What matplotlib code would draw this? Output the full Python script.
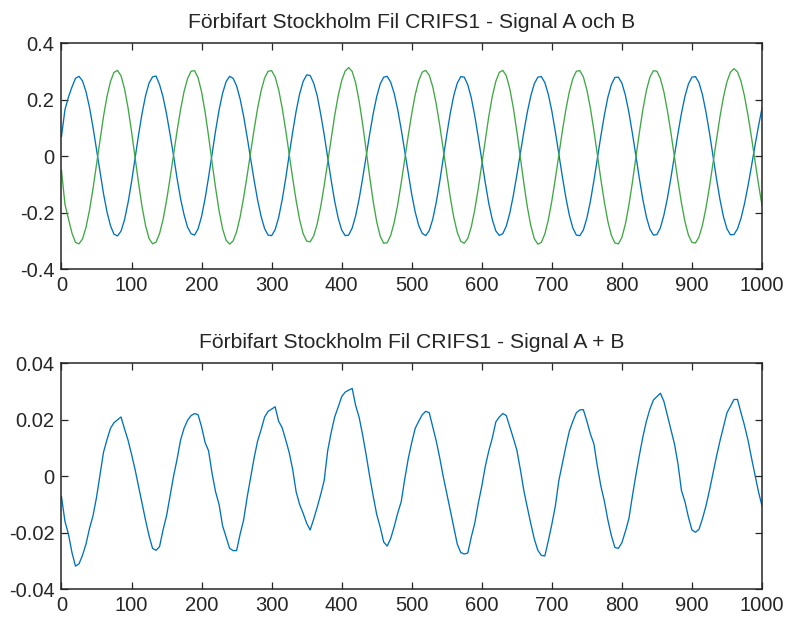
import numpy as np
import matplotlib
matplotlib.use("Agg")
import matplotlib.pyplot as plt

plt.rcParams['font.family'] = ['Liberation Sans', 'DejaVu Sans']

# sample index, every 5th sample of the 1000-sample record
samples = np.arange(0, 1001, 5)

signal_a = [
    0.070, 0.165, 0.210, 0.245, 0.276, 0.283, 0.267, 0.229, 0.173, 0.103,
    0.024, -0.056, -0.132, -0.197, -0.246, -0.276, -0.282, -0.265, -0.225, -0.165,
    -0.091, -0.008, 0.075, 0.151, 0.214, 0.259, 0.281, 0.284, 0.254, 0.210,
    0.150, 0.078, 0.003, -0.078, -0.150, -0.207, -0.251, -0.274, -0.279, -0.257,
    -0.213, -0.150, -0.074, 0.008, 0.090, 0.164, 0.223, 0.264, 0.283, 0.276,
    0.249, 0.203, 0.142, 0.069, -0.008, -0.085, -0.155, -0.213, -0.256, -0.279,
    -0.281, -0.260, -0.217, -0.155, -0.080, 0.004, 0.085, 0.160, 0.221, 0.265,
    0.288, 0.286, 0.259, 0.215, 0.150, 0.077, -0.004, -0.085, -0.159, -0.219,
    -0.261, -0.281, -0.279, -0.254, -0.210, -0.150, -0.077, 0.002, 0.079, 0.151,
    0.211, 0.256, 0.280, 0.283, 0.262, 0.222, 0.165, 0.095, 0.018, -0.061,
    -0.135, -0.198, -0.245, -0.273, -0.281, -0.263, -0.223, -0.163, -0.089, -0.007,
    0.076, 0.152, 0.215, 0.259, 0.282, 0.280, 0.253, 0.207, 0.143, 0.067,
    -0.014, -0.094, -0.167, -0.224, -0.264, -0.280, -0.274, -0.247, -0.201, -0.139,
    -0.067, 0.010, 0.086, 0.156, 0.214, 0.257, 0.280, 0.282, 0.261, 0.219,
    0.160, 0.087, 0.008, -0.072, -0.146, -0.209, -0.254, -0.279, -0.281, -0.261,
    -0.219, -0.160, -0.087, -0.008, 0.072, 0.146, 0.209, 0.254, 0.279, 0.280,
    0.259, 0.216, 0.155, 0.081, 0.002, -0.080, -0.154, -0.215, -0.258, -0.279,
    -0.277, -0.253, -0.208, -0.148, -0.076, 0.002, 0.080, 0.152, 0.212, 0.256,
    0.280, 0.282, 0.261, 0.218, 0.157, 0.083, 0.002, -0.079, -0.153, -0.214,
    -0.257, -0.278, -0.277, -0.257, -0.220, -0.168, -0.105, -0.035, 0.038, 0.107,
    0.170,
]

signal_b = [
    -0.050, -0.170, -0.222, -0.272, -0.305, -0.310, -0.293, -0.252, -0.191, -0.115,
    -0.029, 0.058, 0.141, 0.212, 0.265, 0.297, 0.304, 0.285, 0.239, 0.172,
    0.088, -0.003, -0.094, -0.178, -0.245, -0.291, -0.310, -0.304, -0.274, -0.224,
    -0.157, -0.078, 0.006, 0.089, 0.165, 0.229, 0.275, 0.301, 0.303, 0.278,
    0.228, 0.157, 0.071, -0.022, -0.112, -0.193, -0.257, -0.297, -0.311, -0.300,
    -0.267, -0.215, -0.147, -0.069, 0.014, 0.095, 0.170, 0.232, 0.277, 0.301,
    0.303, 0.281, 0.236, 0.172, 0.094, 0.009, -0.077, -0.157, -0.225, -0.274,
    -0.300, -0.303, -0.282, -0.240, -0.179, -0.104, -0.021, 0.064, 0.144, 0.214,
    0.268, 0.302, 0.314, 0.300, 0.259, 0.194, 0.113, 0.021, -0.073, -0.160,
    -0.232, -0.283, -0.308, -0.306, -0.280, -0.234, -0.171, -0.094, -0.011, 0.073,
    0.151, 0.218, 0.268, 0.298, 0.304, 0.287, 0.246, 0.185, 0.109, 0.024,
    -0.063, -0.145, -0.216, -0.269, -0.301, -0.308, -0.291, -0.250, -0.189, -0.113,
    -0.028, 0.059, 0.141, 0.212, 0.265, 0.297, 0.304, 0.285, 0.239, 0.172,
    0.088, -0.004, -0.095, -0.179, -0.246, -0.292, -0.311, -0.305, -0.275, -0.225,
    -0.158, -0.079, 0.005, 0.089, 0.165, 0.229, 0.275, 0.301, 0.303, 0.281,
    0.235, 0.171, 0.092, 0.005, -0.082, -0.163, -0.231, -0.280, -0.307, -0.310,
    -0.287, -0.240, -0.173, -0.092, -0.004, 0.085, 0.166, 0.233, 0.280, 0.303,
    0.301, 0.275, 0.227, 0.161, 0.083, -0.002, -0.087, -0.165, -0.231, -0.279,
    -0.305, -0.307, -0.286, -0.244, -0.183, -0.108, -0.025, 0.060, 0.140, 0.210,
    0.264, 0.298, 0.310, 0.299, 0.266, 0.213, 0.145, 0.067, -0.017, -0.099,
    -0.174,
]

signal_sum = [
    -0.0072, -0.0160, -0.0205, -0.0270, -0.0318, -0.0310, -0.0280, -0.0240, -0.0185, -0.0140,
    -0.0075, 0.0005, 0.0085, 0.0130, 0.0170, 0.0190, 0.0200, 0.0210, 0.0168, 0.0128,
    0.0078, 0.0025, -0.0035, -0.0095, -0.0155, -0.0210, -0.0255, -0.0262, -0.0249, -0.0190,
    -0.0140, -0.0070, 0.0000, 0.0060, 0.0128, 0.0170, 0.0198, 0.0215, 0.0222, 0.0218,
    0.0175, 0.0120, 0.0090, 0.0010, -0.0055, -0.0100, -0.0175, -0.0215, -0.0255, -0.0263,
    -0.0263, -0.0205, -0.0155, -0.0075, -0.0005, 0.0065, 0.0125, 0.0165, 0.0210, 0.0230,
    0.0238, 0.0246, 0.0195, 0.0172, 0.0130, 0.0085, 0.0025, -0.0055, -0.0100, -0.0131,
    -0.0166, -0.0190, -0.0152, -0.0110, -0.0065, -0.0015, 0.0090, 0.0155, 0.0210, 0.0245,
    0.0282, 0.0298, 0.0305, 0.0311, 0.0250, 0.0208, 0.0145, 0.0075, -0.0001, -0.0070,
    -0.0135, -0.0180, -0.0233, -0.0247, -0.0220, -0.0178, -0.0130, -0.0090, -0.0010, 0.0062,
    0.0120, 0.0170, 0.0195, 0.0218, 0.0230, 0.0225, 0.0175, 0.0125, 0.0065, -0.0001,
    -0.0060, -0.0120, -0.0180, -0.0240, -0.0270, -0.0275, -0.0272, -0.0215, -0.0166, -0.0096,
    -0.0035, 0.0035, 0.0090, 0.0135, 0.0192, 0.0210, 0.0222, 0.0215, 0.0175, 0.0135,
    0.0093, 0.0025, -0.0050, -0.0110, -0.0168, -0.0222, -0.0262, -0.0280, -0.0282, -0.0228,
    -0.0170, -0.0105, -0.0015, 0.0045, 0.0105, 0.0160, 0.0195, 0.0225, 0.0235, 0.0236,
    0.0195, 0.0150, 0.0115, 0.0035, -0.0035, -0.0088, -0.0155, -0.0210, -0.0252, -0.0255,
    -0.0235, -0.0195, -0.0150, -0.0070, 0.0005, 0.0075, 0.0140, 0.0195, 0.0238, 0.0270,
    0.0282, 0.0294, 0.0265, 0.0215, 0.0165, 0.0115, 0.0045, -0.0050, -0.0090, -0.0145,
    -0.0190, -0.0198, -0.0188, -0.0150, -0.0105, -0.0050, 0.0010, 0.0070, 0.0125, 0.0175,
    0.0225, 0.0248, 0.0272, 0.0272, 0.0225, 0.0180, 0.0128, 0.0065, 0.0005, -0.0055,
    -0.0105,
]

x_ticks = list(range(0, 1001, 100))
top_yticks = [-0.4, -0.2, 0, 0.2, 0.4]
top_ylabels = ['-0.4', '-0.2', '0', '0.2', '0.4']
bottom_yticks = [-0.04, -0.02, 0, 0.02, 0.04]
bottom_ylabels = ['-0.04', '-0.02', '0', '0.02', '0.04']

title_top = 'Förbifart Stockholm Fil CRIFS1 - Signal A och B'
title_bottom = 'Förbifart Stockholm Fil CRIFS1 - Signal A + B'

blue = '#0072BD'
green = '#3fa843'
axis_color = '#262626'
text_color = '#262626'


def style_axes(ax, yticks, ylabels, ylim):
    ax.set_xlim(0, 1000)
    ax.set_ylim(*ylim)
    ax.set_xticks(x_ticks)
    ax.set_xticklabels([str(v) for v in x_ticks])
    ax.set_yticks(yticks)
    ax.set_yticklabels(ylabels)
    ax.tick_params(direction='in', length=5, width=0.9, color=axis_color,
                   labelsize=14.5, labelcolor=text_color, top=True, right=True, pad=5)
    for spine in ax.spines.values():
        spine.set_color(axis_color)
        spine.set_linewidth(1.1)


fig = plt.figure(figsize=(7.85, 6.19), dpi=100)

ax1 = fig.add_axes([0.0783, 0.565, 0.8924, 0.3651])
ax1.plot(samples, signal_a, color=blue, lw=0.95)
ax1.plot(samples, signal_b, color=green, lw=0.95)
style_axes(ax1, top_yticks, top_ylabels, (-0.4, 0.4))
ax1.set_title(title_top, fontsize=15.2, color=text_color, pad=11)

ax2 = fig.add_axes([0.0783, 0.048, 0.8924, 0.3651])
ax2.plot(samples, signal_sum, color=blue, lw=0.95)
style_axes(ax2, bottom_yticks, bottom_ylabels, (-0.04, 0.04))
ax2.set_title(title_bottom, fontsize=15.2, color=text_color, pad=11)

fig.savefig('out.png', dpi=100)
